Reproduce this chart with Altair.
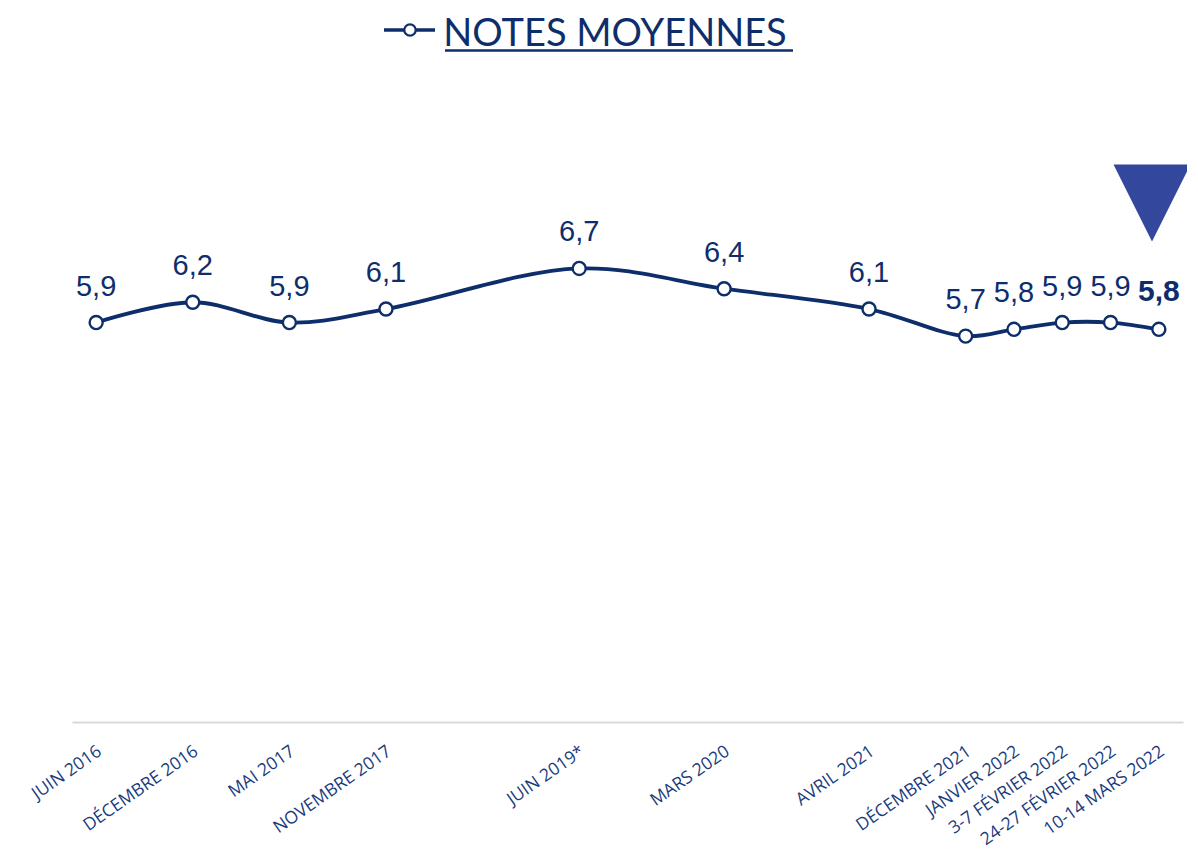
import json
import altair as alt
import pandas as pd

# ---- data -------------------------------------------------------------
periods = ["JUIN 2016", "DÉCEMBRE 2016", "MAI 2017", "NOVEMBRE 2017", "JUIN 2019*",
           "MARS 2020", "AVRIL 2021", "DÉCEMBRE 2021", "JANVIER 2022",
           "3-7 FÉVRIER 2022", "24-27 FÉVRIER 2022", "10-14 MARS 2022"]
slots = [0, 2, 4, 6, 10, 13, 16, 18, 19, 20, 21, 22]
notes = [5.9, 6.2, 5.9, 6.1, 6.7, 6.4, 6.1, 5.7, 5.8, 5.9, 5.9, 5.8]
title_text = ["NOTES MOYENNES"]

NAVY = "#0E2E6B"
LABEL_NAVY = "#1A3C7C"
TRI = "#33479C"

df = pd.DataFrame({"period": periods, "slot": slots, "note": notes})
df["label"] = [f"{v:.1f}".replace(".", ",") for v in notes]
last_slot = slots[-1]

label_expr = (json.dumps(periods, ensure_ascii=False)
              + "[indexof(" + json.dumps(slots) + ", datum.value)]")

x_enc = alt.X("slot:Q",
              scale=alt.Scale(domain=[-0.5, 22.5], nice=False, zero=False),
              axis=alt.Axis(values=slots, labelExpr=label_expr, title=None,
                            grid=False, ticks=False, domainColor="#D9D9D9",
                            domainWidth=2, labelAngle=325, labelAlign="right",
                            labelBaseline="top", labelPadding=20, labelOffset=-2,
                            labelFont="Open Sans", labelFontSize=17.5,
                            labelColor=LABEL_NAVY, labelOverlap=False,
                            labelBound=False, labelFlush=False))
y_enc = alt.Y("note:Q", scale=alt.Scale(domain=[0, 10], nice=False, zero=True), axis=None)

base = alt.Chart(df).encode(x=x_enc, y=y_enc)

line = base.mark_line(color=NAVY, strokeWidth=3.8, interpolate="catmull-rom")
pts = base.mark_point(shape="circle", filled=True, fill="white", stroke=NAVY,
                      strokeWidth=2.4, size=170, opacity=1)
lbl = base.transform_filter(f"datum.slot != {last_slot}").mark_text(
    font="Liberation Sans", fontSize=29, color=NAVY, dy=-27, baseline="alphabetic"
).encode(text="label:N")
lbl_last = base.transform_filter(f"datum.slot == {last_slot}").mark_text(
    font="Liberation Sans", fontSize=30, fontWeight="bold", color=NAVY, dy=-28,
    baseline="alphabetic"
).encode(text="label:N")

deco = pd.DataFrame({"t": title_text})
title = alt.Chart(deco).mark_text(font="Lato", fontSize=38, color=NAVY,
                                  align="center", baseline="alphabetic").encode(
    x=alt.value(543), y=alt.value(1), text="t:N")
underline = alt.Chart(deco).mark_rule(color=NAVY, strokeWidth=2.5).encode(
    x=alt.value(373), x2=alt.value(721), y=alt.value(5.5))
leg_line = alt.Chart(deco).mark_rule(color=NAVY, strokeWidth=3.5).encode(
    x=alt.value(312), x2=alt.value(363), y=alt.value(-15))
leg_pt = alt.Chart(deco).mark_point(shape="circle", filled=True, fill="white",
                                    stroke=NAVY, strokeWidth=2.2, size=130,
                                    opacity=1).encode(
    x=alt.value(338), y=alt.value(-15))
tri = alt.Chart(deco).mark_point(shape="M-1,-1L1,-1L0,1Z", filled=True,
                                 fill=TRI, strokeWidth=0, size=5929,
                                 opacity=1).encode(
    x=alt.value(1080), y=alt.value(158))

chart = alt.layer(line, pts, lbl, lbl_last, title, underline, leg_line, leg_pt, tri).properties(
    width=1111, height=677, autosize="none",
    padding={"left": 64, "top": 37, "right": 4, "bottom": 128},
).configure_view(stroke=None)

chart.save("out.html", embed_options={"renderer": "svg", "actions": False})
